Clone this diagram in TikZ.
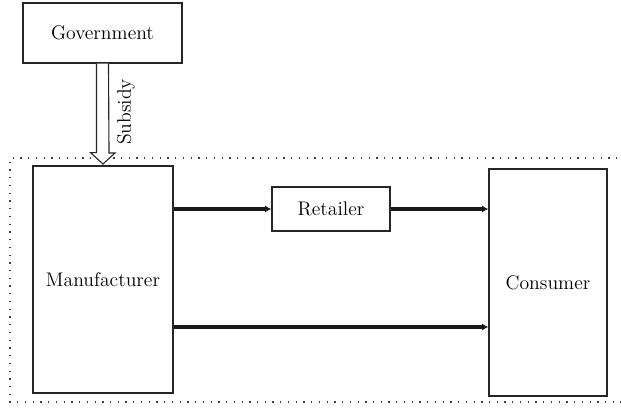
\documentclass[tikz,border=0pt]{standalone}
\usepackage{tikz}
\usetikzlibrary{arrows.meta,positioning,calc}

\begin{document}
\begin{tikzpicture}[
    x=0.025cm, y=-0.025cm,
    box/.style={rectangle,draw=black!85,line width=0.9pt,inner sep=0pt,font=\fontsize{14}{16}\selectfont},
    flow/.style={-{Latex[length=4.5pt,width=5pt]},line width=2.2pt,draw=black!90},
    outline/.style={draw=black!85,line width=0.8pt,fill=white},
    frame/.style={draw=black!75,line width=0.9pt,dash pattern=on 0.9pt off 4.6pt}
]
\useasboundingbox (0,0) rectangle (621,409);

% Dotted frame (right side runs past the edge)
\draw[frame] (625,158) -- (10,158) -- (10,402) -- (625,402);

% Government
\node[box,minimum width=159*0.025cm,minimum height=60*0.025cm] (gov) at (102.5,33) {Government};

% Supply chain
\node[box,minimum width=140*0.025cm,minimum height=227*0.025cm] (manu) at (103,279.5) {Manufacturer};
\node[box,minimum width=118*0.025cm,minimum height=44*0.025cm] (retail) at (331,209) {Retailer};
\node[box,minimum width=118*0.025cm,minimum height=227*0.025cm] (cons) at (548,282.5) {Consumer};

% Subsidy arrow
\coordinate (tip) at (manu.north |- 0,164);
\draw[outline] ([xshift=-6*0.025cm]gov.south) -- ++(0,89) -- ++(-6,0) -- (tip)
    -- ($(tip)+(12,-11)$) -- ++(-6,0) -- ([xshift=6*0.025cm]gov.south);
\node[rotate=90,font=\fontsize{14}{16}\selectfont,anchor=north] (sub) at (112,112) {Subsidy};

% Arrows
\draw[flow] (manu.east |- retail) -- (retail.west);
\draw[flow] (retail.east) -- (cons.west |- retail);
\draw[flow] (manu.east |- 0,327) -- (cons.west |- 0,327);
\end{tikzpicture}
\end{document}
